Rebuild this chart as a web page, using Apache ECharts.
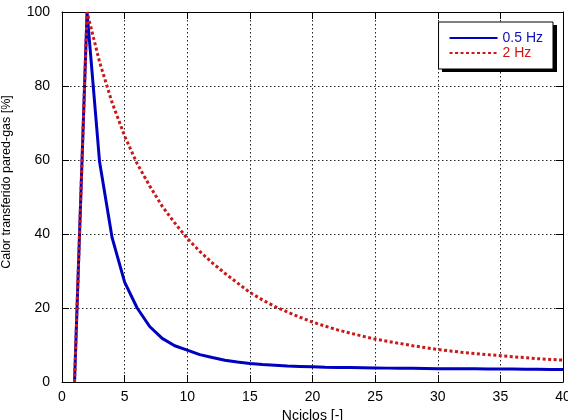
<!DOCTYPE html>
<html>
<head>
<meta charset="utf-8">
<script src="https://cdn.jsdelivr.net/npm/echarts@6/dist/echarts.min.js"></script>
<style>html,body{margin:0;padding:0;background:#fff}#c{width:568px;height:420px}</style>
</head>
<body>
<div id="c"></div>
<script>
var ncycles = [1,2,3,4,5,6,7,8,9,10,11,12,13,14,15,16,17,18,19,20,21,22,23,24,25,26,27,28,29,30,31,32,33,34,35,36,37,38,39,40];
var heat05 = [0,100,59.5,39,27,20,15,11.8,9.8,8.6,7.4,6.6,5.9,5.4,5.0,4.7,4.5,4.3,4.2,4.1,4.0,3.95,3.9,3.85,3.8,3.75,3.7,3.7,3.65,3.6,3.6,3.55,3.55,3.5,3.5,3.5,3.45,3.45,3.4,3.4];
var heat2 = [0,100,86.5,75.5,66.5,59,53,47.5,43,38.8,35.3,32.2,29.4,26.8,24.2,22.2,20.4,18.9,17.5,16.2,15.1,14.1,13.2,12.4,11.6,11.0,10.4,9.8,9.3,8.8,8.4,8.0,7.7,7.4,7.1,6.8,6.6,6.3,6.1,5.9];
var xTicks = {min:0, max:40, interval:5};
var yTicks = {min:0, max:100, interval:20};
var names = ['0.5 Hz','2 Hz'];

function pairs(xs, ys){ return xs.map(function(x,i){ return [x, ys[i]]; }); }

var font = 'Liberation Sans, Arial, sans-serif';
var chart = echarts.init(document.getElementById('c'));
var gridLine = {show:true, lineStyle:{color:'#222', width:1, type:[1.5,2.5]}};
chart.setOption({
  animation:false,
  backgroundColor:'#fff',
  grid:{left:62, right:5, top:12, bottom:38, containLabel:false, outerBoundsMode:'none'},
  graphic:[{
    type:'rect', z:1, silent:true,
    shape:{x:442, y:25, width:115, height:47},
    style:{fill:'#000'}
  }],
  legend:{
    orient:'vertical', right:15, top:22, align:'left', z:5,
    backgroundColor:'#fff', borderColor:'#000', borderWidth:1,
    padding:[9,10,9,10], itemWidth:48, itemHeight:14, itemGap:1, itemTextGap:6,
    itemStyle:{opacity:0},
    textStyle:{fontFamily:font, fontSize:14},
    data:[
      {name:names[0], textStyle:{color:'#1010b8'}},
      {name:names[1], textStyle:{color:'#d01515'}}
    ]
  },
  xAxis:[{
    type:'value', min:xTicks.min, max:xTicks.max, interval:xTicks.interval,
    name:'Nciclos [-]', nameLocation:'middle', nameGap:22,
    nameTextStyle:{fontFamily:font, fontSize:14, color:'#000'},
    axisLine:{show:true, lineStyle:{color:'#000', width:1}},
    axisTick:{show:true, inside:true, length:7, lineStyle:{color:'#000'}},
    axisLabel:{fontFamily:font, fontSize:14, color:'#000', margin:8},
    splitLine:gridLine
  },{
    type:'value', position:'top', min:xTicks.min, max:xTicks.max, interval:xTicks.interval,
    axisLine:{show:true, onZero:false, lineStyle:{color:'#000', width:1}},
    axisTick:{show:true, inside:true, length:7, lineStyle:{color:'#000'}},
    axisLabel:{show:false}, splitLine:{show:false}
  }],
  yAxis:[{
    type:'value', min:yTicks.min, max:yTicks.max, interval:yTicks.interval,
    name:'Calor transferido pared-gas [%]', nameLocation:'middle', nameGap:49,
    nameTextStyle:{fontFamily:font, fontSize:12.5, color:'#000', padding:[0,0,0,30]},
    axisLine:{show:true, lineStyle:{color:'#000', width:1}},
    axisTick:{show:true, inside:true, length:7, lineStyle:{color:'#000'}},
    axisLabel:{fontFamily:font, fontSize:14, color:'#000', margin:12},
    splitLine:gridLine
  },{
    type:'value', position:'right', min:yTicks.min, max:yTicks.max, interval:yTicks.interval,
    axisLine:{show:true, onZero:false, lineStyle:{color:'#000', width:1}},
    axisTick:{show:true, inside:true, length:7, lineStyle:{color:'#000'}},
    axisLabel:{show:false}, splitLine:{show:false}
  }],
  series:[{
    name:names[0], type:'line', symbol:'none', data:pairs(ncycles, heat05),
    lineStyle:{color:'#0000c0', width:3}, itemStyle:{color:'#0000c0'}, z:3
  },{
    name:names[1], type:'line', symbol:'none', data:pairs(ncycles, heat2),
    lineStyle:{color:'#cc1818', width:3, type:[3,2.5]}, itemStyle:{color:'#cc1818'}, z:4
  }]
});
</script>
</body>
</html>
